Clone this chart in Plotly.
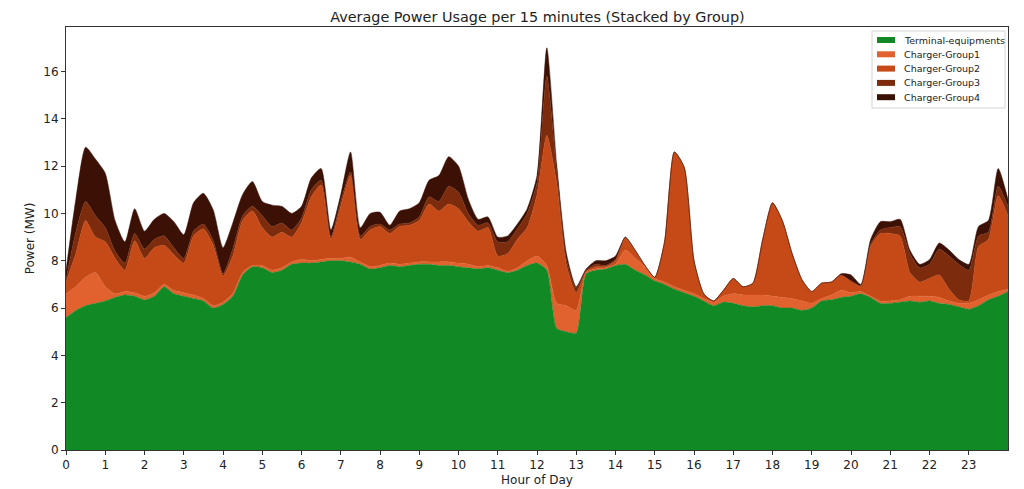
import plotly.graph_objects as go

# quarter-hour steps, 0 .. 24 h
hours = [i * 0.25 for i in range(97)]

terminal = [5.6, 5.9, 6.1, 6.2, 6.3, 6.45, 6.55, 6.5, 6.35, 6.5, 6.9, 6.6,
            6.5, 6.4, 6.3, 6.0, 6.15, 6.5, 7.4, 7.75, 7.7, 7.5, 7.6, 7.85,
            7.9, 7.9, 7.95, 8.0, 8.0, 7.95, 7.85, 7.65, 7.7, 7.8, 7.75, 7.8,
            7.85, 7.85, 7.8, 7.8, 7.75, 7.7, 7.65, 7.7, 7.6, 7.5, 7.6, 7.8,
            7.9, 7.6, 5.15, 5.0, 4.95, 7.45, 7.6, 7.65, 7.8, 7.85, 7.6, 7.4,
            7.15, 7.0, 6.8, 6.65, 6.5, 6.3, 6.1, 6.25, 6.2, 6.1, 6.05, 6.1,
            6.1, 6.0, 6.0, 5.9, 6.0, 6.3, 6.35, 6.45, 6.5, 6.6, 6.45, 6.2,
            6.2, 6.25, 6.3, 6.25, 6.3, 6.2, 6.15, 6.05, 5.95, 6.1, 6.35, 6.5,
            6.7]

group1 = [1.0, 1.0, 1.2, 1.3, 0.6, 0.15, 0.15, 0.15, 0.15, 0.15, 0.1, 0.15,
          0.15, 0.15, 0.1, 0.1, 0.1, 0.1, 0.1, 0.05, 0.1, 0.1, 0.1, 0.1,
          0.15, 0.1, 0.1, 0.1, 0.1, 0.2, 0.1, 0.1, 0.1, 0.1, 0.1, 0.1,
          0.1, 0.1, 0.15, 0.15, 0.15, 0.15, 0.1, 0.1, 0.1, 0.05, 0.1, 0.2,
          0.3, 0.2, 1.05, 1.1, 0.95, 0.05, 0.05, 0.05, 0.05, 0.6, 0.5, 0.35,
          0.1, 0.1, 0.1, 0.1, 0.1, 0.1, 0.15, 0.25, 0.4, 0.45, 0.5, 0.45,
          0.4, 0.45, 0.4, 0.4, 0.2, 0.1, 0.2, 0.3, 0.15, 0.1, 0.05, 0.1,
          0.1, 0.1, 0.2, 0.25, 0.2, 0.25, 0.15, 0.15, 0.25, 0.25, 0.2, 0.2,
          0.1]

group2 = [0.5, 1.4, 2.4, 1.5, 1.9, 1.5, 0.9, 2.2, 1.6, 1.9, 1.65, 1.5,
          1.25, 2.5, 2.95, 2.55, 1.1, 1.6, 2.2, 2.3, 1.6, 1.4, 1.5, 1.05,
          1.55, 2.7, 3.15, 0.8, 2.2, 3.45, 0.95, 1.55, 1.65, 1.25, 1.6, 1.6,
          1.75, 2.45, 2.15, 2.45, 2.3, 1.8, 1.5, 1.6, 0.5, 0.75, 1.2, 1.4,
          2.6, 5.5, 5.1, 1.7, 0.75, 0.05, 0.1, 0.05, 0.15, 0.5, 0.3, 0.05,
          0.05, 1.7, 5.7, 5.2, 1.4, 0.2, 0.05, 0.25, 0.65, 0.35, 0.5, 2.35,
          3.95, 3.25, 1.9, 0.9, 0.5, 0.65, 0.55, 0.65, 0.5, 0.2, 2.1, 2.85,
          2.85, 2.7, 1.0, 0.6, 0.75, 0.95, 0.5, 0.15, 0.1, 2.25, 2.35, 4.05,
          3.1]

group3 = [0.1, 0.9, 0.8, 0.9, 0.6, 0.3, 0.3, 0.3, 0.4, 0.35, 0.4, 0.3,
          0.2, 0.2, 0.2, 0.2, 0.1, 0.3, 0.2, 0.2, 0.5, 0.45, 0.4, 0.3,
          0.2, 0.3, 0.2, 0.1, 0.2, 0.15, 0.15, 0.15, 0.1, 0.15, 0.1, 0.1,
          0.15, 0.3, 0.4, 0.75, 0.7, 0.35, 0.25, 0.2, 0.6, 0.5, 0.45, 0.6,
          0.5, 2.5, 0.55, 0.25, 0.2, 0.05, 0.1, 0.05, 0.05, 0.05, 0.05, 0.0,
          0.0, 0.0, 0.0, 0.0, 0.0, 0.0, 0.0, 0.0, 0.0, 0.0, 0.0, 0.0,
          0.0, 0.0, 0.0, 0.0, 0.0, 0.0, 0.0, 0.0, 0.0, 0.05, 0.1, 0.15,
          0.25, 0.4, 0.8, 0.6, 0.6, 1.1, 1.4, 1.5, 1.3, 0.45, 0.3, 0.4,
          0.4]

group4 = [0.4, 1.4, 2.3, 2.4, 2.3, 1.3, 0.9, 1.05, 0.75, 0.85, 0.95, 1.1,
          1.0, 1.2, 1.3, 1.3, 1.1, 1.1, 0.9, 1.05, 0.6, 0.9, 0.7, 0.7,
          0.5, 0.5, 0.5, 0.3, 0.3, 0.85, 0.35, 0.55, 0.5, 0.2, 0.55, 0.6,
          0.6, 0.7, 1.1, 1.25, 1.1, 0.6, 0.25, 0.25, 0.2, 0.25, 0.2, 0.2,
          0.3, 1.2, 0.25, 0.25, 0.05, 0.05, 0.15, 0.2, 0.15, 0.0, 0.0, 0.0,
          0.0, 0.0, 0.0, 0.0, 0.0, 0.0, 0.0, 0.0, 0.0, 0.0, 0.0, 0.0,
          0.0, 0.0, 0.0, 0.0, 0.0, 0.0, 0.0, 0.05, 0.25, 0.05, 0.2, 0.35,
          0.25, 0.3, 0.15, 0.15, 0.2, 0.25, 0.25, 0.2, 0.25, 0.4, 0.5, 0.75,
          0.3]

names = ["Terminal-equipments", "Charger-Group1", "Charger-Group2",
         "Charger-Group3", "Charger-Group4"]
colors = ["#118a26", "#e2622f", "#c54a18", "#7c2b0c", "#3b1106"]
series = [terminal, group1, group2, group3, group4]

fig = go.Figure()
for name, col, vals in zip(names, colors, series):
    fig.add_trace(go.Scatter(
        x=hours, y=vals, name=name, mode="lines",
        stackgroup="one", fillcolor=col,
        line=dict(width=0.5, color=col, shape="spline", smoothing=0.6),
        showlegend=False,
    ))

# matplotlib-style legend box (compact rows), placed in paper coords
def px_x(p):
    return (p - 66) / 942

def px_y(p):
    return (450 - p) / 423

fig.add_shape(type="rect", xref="paper", yref="paper",
              x0=px_x(872), x1=px_x(1005), y0=px_y(108), y1=px_y(31),
              line=dict(color="#d4d4d4", width=1),
              fillcolor="rgba(255,255,255,0.85)", layer="above")
for i, (name, col) in enumerate(zip(names, colors)):
    cy = 40 + 14.3 * i
    fig.add_shape(type="rect", xref="paper", yref="paper",
                  x0=px_x(877), x1=px_x(895), y0=px_y(cy + 3), y1=px_y(cy - 3),
                  line=dict(width=0), fillcolor=col, layer="above")
    fig.add_annotation(x=px_x(902), y=px_y(cy), xref="paper", yref="paper",
                       text=name, showarrow=False, xanchor="left",
                       yanchor="middle", font=dict(size=9.5, color="#222"))

axis_style = dict(
    showline=True, linecolor="#333", linewidth=1, mirror=True,
    ticks="outside", ticklen=4, tickcolor="#333",
    showgrid=False, zeroline=False, automargin=False,
    tickfont=dict(size=12, color="#222"),
)

# the page body adds an 8px offset, so margins are shifted to compensate
fig.update_layout(
    width=1024, height=489,
    margin=dict(l=58, r=24, t=19, b=47),
    paper_bgcolor="white", plot_bgcolor="white",
    font=dict(family="DejaVu Sans", color="#222"),
    title=dict(text="Average Power Usage per 15 minutes (Stacked by Group)",
               x=0.517, xanchor="center", y=0.981, yanchor="middle",
               font=dict(size=14.4)),
)
fig.update_xaxes(range=[0, 24], tickmode="array", tickvals=list(range(24)),
                 title=dict(text="Hour of Day", font=dict(size=12), standoff=4),
                 **axis_style)
fig.update_yaxes(range=[0, 17.88], tickmode="array", tickvals=list(range(0, 17, 2)),
                 title=dict(text="Power (MW)", font=dict(size=12), standoff=6),
                 **axis_style)

fig.write_html("out.html")
